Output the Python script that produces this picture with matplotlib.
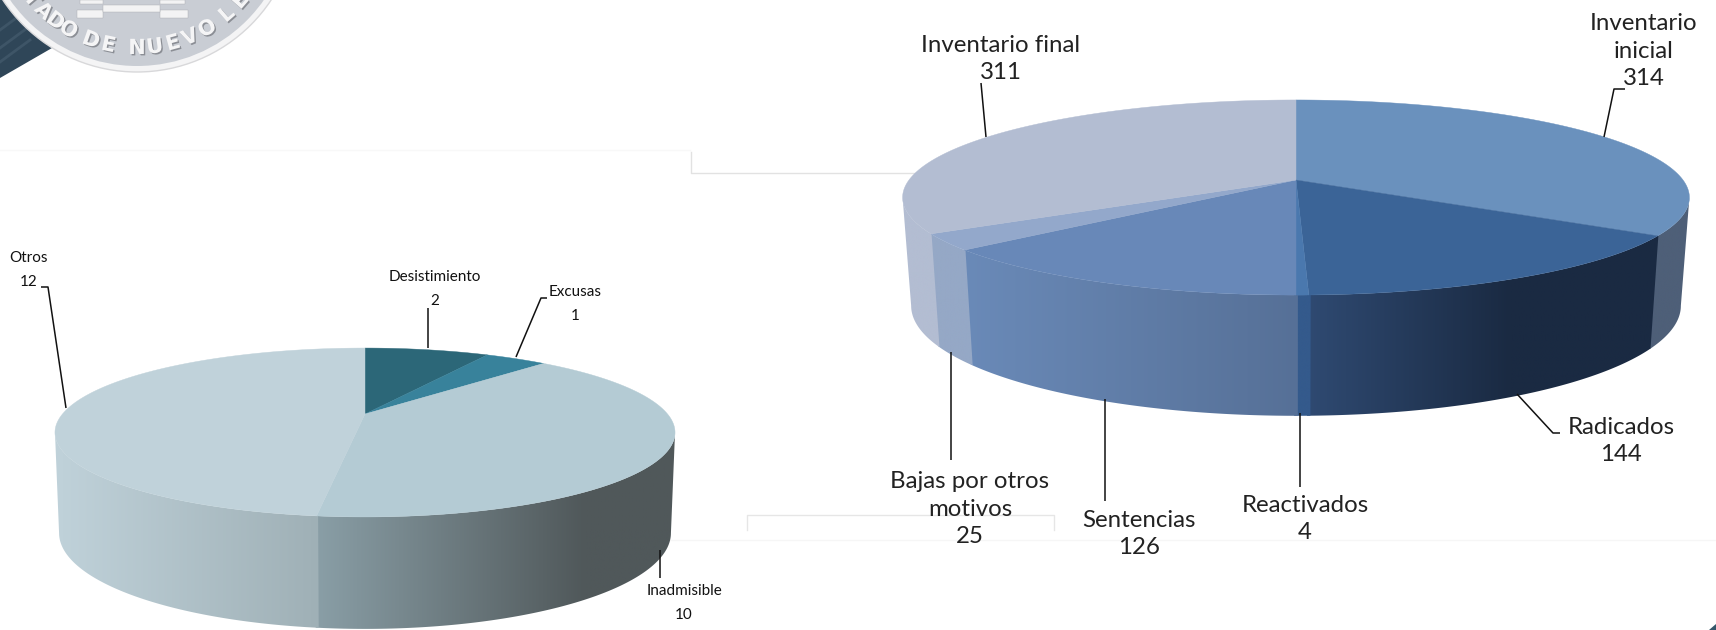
import numpy as np
import matplotlib
matplotlib.use("Agg")
import matplotlib.pyplot as plt
import matplotlib.patheffects as pe
from matplotlib.patches import Circle, Polygon, Rectangle

# ------ data --------------------
left_names = ["Desistimiento", "Excusas", "Inadmisible", "Otros"]
left_values = [2, 1, 10, 12]

right_names = ["Inventario\ninicial", "Radicados", "Reactivados", "Sentencias",
               "Bajas por otros\nmotivos", "Inventario final"]
right_values = [314, 144, 4, 126, 25, 311]

# ------ colours -------------------
left_top = ["#2c6778", "#38829b", "#b4cbd4", "#c0d2da"]
left_side = [("#2c6778", "#2c6778"), ("#38829b", "#38829b"),
             ("#8a9fa7", "#50585a"), ("#c0d2da", "#9fb0b6")]
right_top = ["#6a91bd", "#3b6497", "#4a78ae", "#6888b8", "#93a8cb", "#b3bdd2"]
right_side = [("#4e5f78", "#4e5f78"), ("#2f4a72", "#1a2a42"), ("#345a8c", "#345a8c"),
              ("#6a8ab8", "#567097"), ("#95a8c6", "#95a8c6"), ("#b3bdd2", "#b3bdd2")]

fig = plt.figure(figsize=(17.16, 6.3), dpi=100)
ax = fig.add_axes([0, 0, 1, 1])


def rim(theta, geo):
    # clockwise angle from the top of the pie -> pixel position, with a bit of perspective
    cx, cy, bx, ay, k = geo
    u, v = np.sin(theta), np.cos(theta)
    d = 1 + k * v
    return cx + bx * u / d, cy - ay * v / d


def pie3d(values, tops, sides, geo_top, geo_bottom, grad_right=None):
    values = np.array(values, dtype=float)
    edges = np.concatenate([[0], np.cumsum(values)]) / values.sum() * 2 * np.pi
    k = geo_top[4]
    vis0, vis1 = np.arccos(-k), 2 * np.pi - np.arccos(-k)

    # walls first, top face over them
    for i in range(len(values)):
        a, b = max(edges[i], vis0), min(edges[i + 1], vis1)
        if b <= a:
            continue
        # small overlap so no white seam shows between two walls
        th = np.linspace(max(a - 0.004, vis0), min(b + 0.004, vis1), 120)
        x1, y1 = rim(th, geo_top)
        x2, y2 = rim(th, geo_bottom)
        pts = np.column_stack([np.r_[x1, x2[::-1]], np.r_[y1, y2[::-1]]])
        c0, c1 = matplotlib.colors.to_rgb(sides[i][0]), matplotlib.colors.to_rgb(sides[i][1])
        x0, xn = pts[:, 0].min(), pts[:, 0].max()
        # the gradient does not run over the whole wall on the big slices
        t = np.linspace(0, 1, 256)
        if grad_right is not None and xn > grad_right > x0:
            t = np.clip(np.linspace(x0, xn, 256), x0, grad_right)
            t = (t - x0) / (grad_right - x0)
        grad = np.array([[(1 - s) * c0[j] + s * c1[j] for j in range(3)] for s in t])[None, :, :]
        patch = Polygon(pts, closed=True, fc="none", ec="none")
        ax.add_patch(patch)
        im = ax.imshow(grad, extent=[x0, xn, pts[:, 1].max(), pts[:, 1].min()], aspect="auto", zorder=2)
        im.set_clip_path(patch)

    for i in range(len(values)):
        th = np.linspace(edges[i], edges[i + 1], 200)
        x, y = rim(th, geo_top)
        ax.fill(np.r_[geo_top[0], x], np.r_[geo_top[1], y], color=tops[i], lw=0.3, zorder=3)


# ------ background bits ----------
ax.add_patch(Polygon([(0, 0), (70, 0), (52, 48), (0, 78)], fc="#2f4658", ec="none", zorder=1))
for y0 in [30, 48, 62]:
    ax.plot([0, 30], [y0, y0 - 22], color="#4d6476", lw=2, alpha=0.5, zorder=1)
ax.add_patch(Circle((137, -89), 161, fc="#f4f4f5", ec="#d8d8da", lw=1, zorder=1.2))
ax.add_patch(Circle((137, -89), 155, fc="#c9cdd4", ec="none", zorder=1.3))
for x0, x1, y0, y1 in [(80, 103, 0, 4), (77, 103, 10, 18), (160, 185, 0, 4), (160, 188, 10, 18), (103, 160, 5, 12)]:
    ax.add_patch(Rectangle((x0, y0), x1 - x0, y1 - y0, fc="#f3f3f4", ec="#a8abb0", lw=0.3, zorder=1.4))

seal_text = "TADO DE NUEVO LE"
seal_angles = [-50, -43, -36.5, -30, None, -19.6, -12, None, 0, 7.5, 15.3, 22.8, 30.9, None, 41, 49]
for ch, ang in zip(seal_text, seal_angles):
    if ang is None:
        continue
    r = np.radians(ang)
    ax.text(137 + 137 * np.sin(r), -89 + 137 * np.cos(r), ch, fontsize=15, fontweight="bold", color="#f5f5f6",
            rotation=ang, ha="center", va="center", zorder=1.5, clip_on=True,
            path_effects=[pe.withSimplePatchShadow(offset=(1, -1), shadow_rgbFace="#85888e", alpha=0.9)])

# faint frames left over in the page
ax.plot([0, 690], [150, 150], color="#f8f8f8", lw=1, zorder=0)
ax.plot([691, 691, 915], [152, 173, 173], color="#e2e2e2", lw=1, zorder=0)
ax.plot([747, 747, 1054, 1054], [530, 515, 515, 530], color="#e6e6e6", lw=1, zorder=0)
ax.plot([660, 1716], [540, 540], color="#f6f6f6", lw=1, zorder=0)
ax.add_patch(Polygon([(1716, 624), (1716, 630), (1709, 630)], fc="#33566a", ec="none", zorder=1))

# ------ the two pies -------------
pie3d(left_values, left_top, left_side,
      (365, 414, 302.5, 80.4, 0.219), (365, 512, 298.5, 91.3, 0.219), grad_right=585)
pie3d(right_values, right_top, right_side,
      (1296, 180, 387, 94.4, 0.1795), (1296, 286, 378.6, 106.5, 0.1795), grad_right=1510)

# ------ leader lines ---------------
left_leaders = [[(428, 308), (428, 348)], [(547, 298), (541, 298), (516, 357)],
                [(660, 550), (660, 578)], [(41, 287), (48, 287), (66, 408)]]
right_leaders = [[(1625, 89), (1614, 89), (1604, 137)], [(1560, 433), (1553, 433), (1517, 394)],
                 [(1300, 413), (1300, 487)], [(1105, 399), (1105, 501)],
                 [(951, 352), (951, 460)], [(981, 83), (986, 137)]]
for line in left_leaders + right_leaders:
    xy = np.array(line)
    ax.plot(xy[:, 0], xy[:, 1], color="#111111", lw=1.1, zorder=4, solid_capstyle="butt")

# ------ labels ---------------------
left_pos = [(435, 289), (575, 304), (684, 603), (29, 270)]
right_pos = [(1644, 51), (1621, 441), (1305, 519), (1139, 534), (970, 509), (1001, 59)]
for name, val, (x, y) in zip(left_names, left_values, left_pos):
    ax.text(x, y, f"{name}\n{val}", ha="center", va="center", ma="center", fontsize=11,
            family="Lato", color="#111111", linespacing=1.95, zorder=5)
for name, val, (x, y) in zip(right_names, right_values, right_pos):
    ax.text(x, y, f"{name}\n{val}", ha="center", va="center", ma="center", fontsize=17.3,
            family="Lato", color="#222222", linespacing=1.37, zorder=5)

ax.set_xlim(0, 1716)
ax.set_ylim(630, 0)
ax.axis("off")
fig.savefig("out.png", dpi=100, facecolor="white")
